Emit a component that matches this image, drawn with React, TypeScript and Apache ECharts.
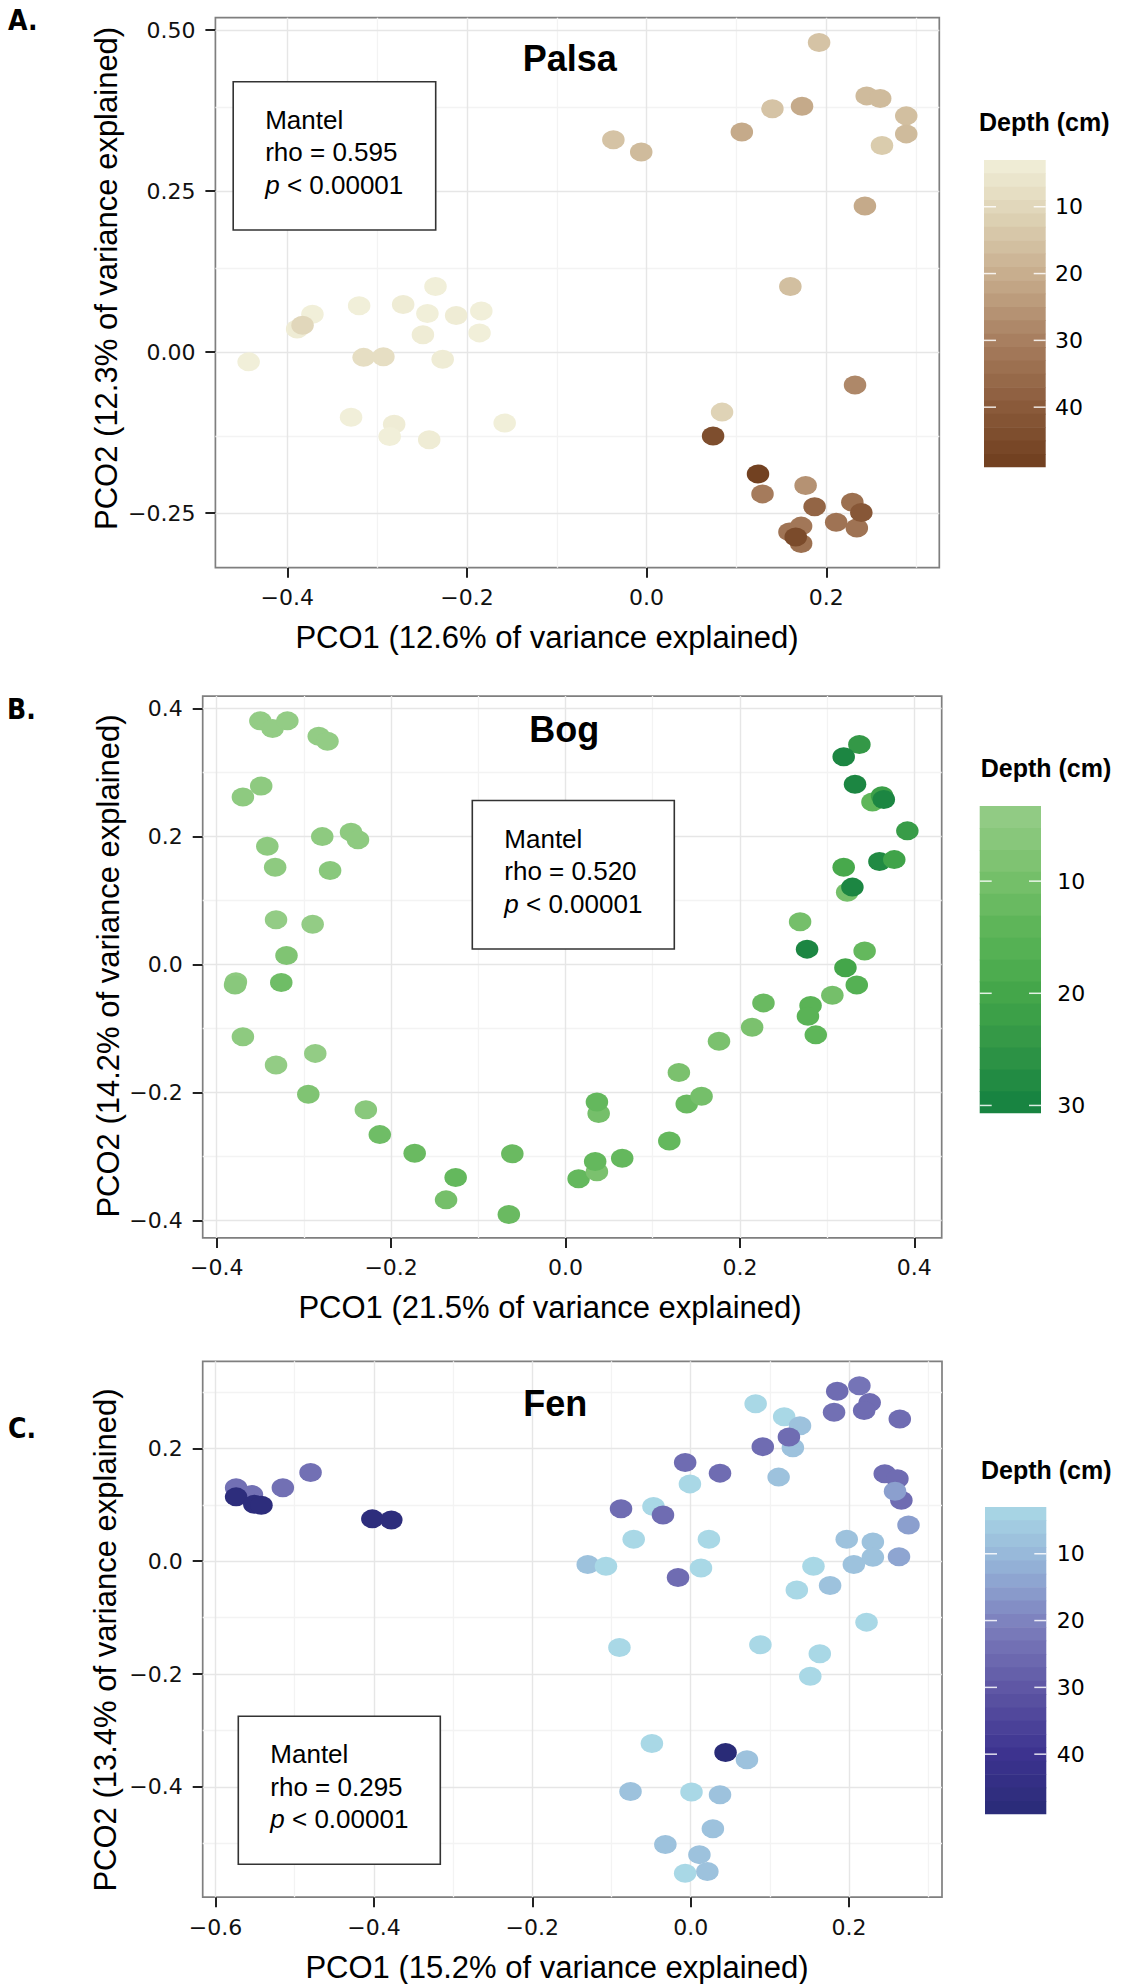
import { useEffect, useRef } from 'react';
import * as echarts from 'echarts';

// ---------------- DATA ----------------
// Palsa (A)
const palsaX = [-0.443, -0.389, -0.372, -0.320, -0.271, -0.244, -0.235, -0.212, -0.184, -0.249, -0.186, -0.227, -0.315, -0.293, -0.383, -0.329, -0.281, -0.286, -0.242, -0.158,
  0.192, 0.245, 0.260, 0.289, 0.289, 0.262, 0.173, 0.140, 0.106, -0.037, -0.006, 0.243, 0.160,
  0.232, 0.084, 0.074, 0.124, 0.129, 0.177, 0.187, 0.229, 0.211, 0.234, 0.239, 0.159, 0.172, 0.172, 0.166];
const palsaY = [-0.015, 0.036, 0.059, 0.072, 0.074, 0.060, 0.102, 0.057, 0.064, 0.027, 0.030, -0.011, -0.008, -0.007, 0.042, -0.101, -0.112, -0.131, -0.136, -0.110,
  0.481, 0.398, 0.394, 0.367, 0.339, 0.321, 0.382, 0.378, 0.342, 0.330, 0.311, 0.227, 0.102,
  -0.051, -0.093, -0.130, -0.189, -0.220, -0.207, -0.240, -0.233, -0.264, -0.273, -0.249, -0.279, -0.270, -0.297, -0.287];
const palsaDepth = [3, 4, 3, 3, 4, 3, 3, 4, 3, 4, 3, 4, 8, 8, 10, 3, 4, 3, 4, 3,
  15, 17, 17, 16, 17, 13, 21, 15, 21, 15, 17, 21, 16,
  28, 11, 44, 48, 31, 26, 37, 34, 33, 33, 41, 33, 32, 34, 45];

// Bog (B)
const bogX = [-0.350, -0.336, -0.319, -0.283, -0.273, -0.349, -0.370, -0.342, -0.279, -0.246, -0.238, -0.333, -0.270, -0.332, -0.290, -0.320, -0.378, -0.379, -0.326, -0.370, -0.332, -0.287, -0.295, -0.229, -0.213, -0.173, -0.126, -0.137, -0.065, -0.061,
  0.015, 0.036, 0.034, 0.065, 0.038, 0.036, 0.119, 0.130, 0.139, 0.156, 0.176, 0.214, 0.227, 0.269, 0.277, 0.281, 0.278, 0.287, 0.306, 0.321, 0.334, 0.343, 0.323, 0.329, 0.319, 0.360, 0.377, 0.392, 0.352, 0.363, 0.365, 0.332, 0.337, 0.319];
const bogY = [0.381, 0.369, 0.381, 0.357, 0.349, 0.279, 0.262, 0.185, 0.200, 0.207, 0.195, 0.152, 0.147, 0.070, 0.063, 0.014, -0.027, -0.032, -0.028, -0.113, -0.157, -0.139, -0.203, -0.227, -0.266, -0.295, -0.333, -0.368, -0.391, -0.296,
  -0.335, -0.324, -0.308, -0.303, -0.233, -0.215, -0.276, -0.169, -0.218, -0.206, -0.120, -0.098, -0.060, 0.067, 0.024, -0.064, -0.081, -0.110, -0.048, -0.005, -0.032, 0.021, 0.113, 0.121, 0.152, 0.161, 0.164, 0.209, 0.254, 0.264, 0.258, 0.282, 0.344, 0.325];
const bogDepth = [4, 4, 4, 4, 4, 5, 5, 5, 5, 5, 5, 5, 6, 4, 4, 8, 5, 6, 11, 5, 4, 4, 8, 6, 11, 12, 13, 10, 12, 12,
  13, 9, 13, 13, 10, 13, 13, 9, 12, 10, 9, 9, 12, 10, 29, 15, 15, 14, 10, 20, 16, 13, 10, 29, 19, 28, 21, 23, 14, 22, 29, 29, 24, 29];

// Fen (C)
const fenX = [-0.574, -0.554, -0.515, -0.480, -0.574, -0.551, -0.542, -0.402, -0.378,
  0.082, 0.118, 0.138, 0.129, 0.124, 0.185, 0.213, 0.181, 0.226, 0.219, 0.264, 0.091, -0.007, 0.037, -0.001, 0.111, 0.245, 0.261, 0.266, 0.258, 0.275,
  -0.088, -0.047, -0.035, -0.072, 0.023, 0.197, 0.230, 0.230, 0.206, 0.263, -0.130, -0.107, 0.013, -0.016, 0.155, 0.134, 0.176, 0.222,
  -0.090, 0.088, 0.163, 0.151, -0.049, 0.071, 0.044, -0.076, 0.001, 0.037, 0.028, -0.032, 0.011, -0.007, 0.021];
const fenY = [0.130, 0.118, 0.130, 0.157, 0.114, 0.101, 0.099, 0.075, 0.073,
  0.279, 0.256, 0.240, 0.201, 0.220, 0.301, 0.311, 0.264, 0.281, 0.267, 0.252, 0.203, 0.175, 0.156, 0.137, 0.149, 0.155, 0.146, 0.108, 0.124, 0.064,
  0.093, 0.097, 0.082, 0.039, 0.039, 0.039, 0.034, 0.007, -0.006, 0.008, -0.006, -0.009, -0.012, -0.029, -0.009, -0.051, -0.043, -0.108,
  -0.153, -0.148, -0.164, -0.204, -0.323, -0.352, -0.339, -0.408, -0.409, -0.414, -0.474, -0.502, -0.520, -0.553, -0.550];
const fenDepth = [24, 24, 24, 24, 47, 47, 47, 47, 47,
  3, 3, 8, 8, 25, 25, 23, 24, 25, 25, 25, 25, 25, 25, 3, 8, 25, 25, 25, 15, 15,
  25, 3, 25, 3, 3, 8, 8, 8, 8, 14, 8, 3, 3, 25, 3, 3, 8, 3,
  3, 3, 3, 3, 3, 8, 49, 8, 3, 8, 8, 8, 8, 3, 8];

// axis ticks
const palsaXTicks = [-0.4, -0.2, 0, 0.2];
const palsaXMinor = [-0.3, -0.1, 0.1, 0.3];
const palsaYTicks = [-0.25, 0, 0.25, 0.5];
const palsaYMinor = [-0.125, 0.125, 0.375];
const bogXTicks = [-0.4, -0.2, 0, 0.2, 0.4];
const bogXMinor = [-0.3, -0.1, 0.1, 0.3];
const bogYTicks = [-0.4, -0.2, 0, 0.2, 0.4];
const bogYMinor = [-0.3, -0.1, 0.1, 0.3];
const fenXTicks = [-0.6, -0.4, -0.2, 0, 0.2];
const fenXMinor = [-0.5, -0.3, -0.1, 0.1, 0.3];
const fenYTicks = [-0.4, -0.2, 0, 0.2];
const fenYMinor = [-0.5, -0.3, -0.1, 0.1, 0.3];

// colour legends
const palsaLegendTicks = [10, 20, 30, 40];
const bogLegendTicks = [10, 20, 30];
const fenLegendTicks = [10, 20, 30, 40];
const palsaRange = [3, 49];
const bogRange = [3.3, 30.7];
const fenRange = [3, 49];
const palsaColors = ['#F1EFD9', '#DCCFB1', '#C4A888', '#A67C5D', '#8B5B3B', '#6F3E1E'];
const bogColors = ['#96CD88', '#7CC26F', '#5DB558', '#45A74A', '#2F9446', '#138040'];
const fenColors = ['#A9D8E6', '#93AFD6', '#7A7BBB', '#5D55A3', '#3D3390', '#292B77'];

const palsaXTitle = 'PCO1 (12.6% of variance explained)';
const palsaYTitle = 'PCO2 (12.3% of variance explained)';
const bogXTitle = 'PCO1 (21.5% of variance explained)';
const bogYTitle = 'PCO2 (14.2% of variance explained)';
const fenXTitle = 'PCO1 (15.2% of variance explained)';
const fenYTitle = 'PCO2 (13.4% of variance explained)';

// ---------------- STYLE / LAYOUT ----------------
const FONT = '"Liberation Sans", Arial, Helvetica, sans-serif';
const WIDE = '"DejaVu Sans", Verdana, sans-serif';
const NARROW = '"Liberation Sans Narrow", "DejaVu Sans Condensed", "Liberation Sans", sans-serif';
const ELLIPSE = 'path://M50,0 A50,50 0 1 1 50,100 A50,50 0 1 1 50,0 Z';

const panels = [
  {
    name: 'Palsa', letter: 'A.', xs: palsaX, ys: palsaY, ds: palsaDepth, range: palsaRange, colors: palsaColors,
    grid: { left: 215.4, top: 17.7, width: 723.9, height: 550 },
    xMin: -0.480, xMax: 0.3258, yMin: -0.3346, yMax: 0.5194,
    xTicks: palsaXTicks, xMinor: palsaXMinor, yTicks: palsaYTicks, yMinor: palsaYMinor,
    xStep: 0.2, yStep: 0.25, xDec: 1, yDec: 2,
    xTitle: palsaXTitle, yTitle: palsaYTitle, xTitlePos: [547, 637], yTitlePos: [106.5, 278.4],
    titlePos: [522.7, 58.3], letterPos: [8, 20], box: [233.2, 81.7, 202.5, 148.3], rho: '0.595',
    legend: { titleX: 979, titleY: 121.7, barX: 984, barY: 160, barW: 61.7, barH: 307.3, labelX: 1055, nb: 23, ticks: palsaLegendTicks },
  },
  {
    name: 'Bog', letter: 'B.', xs: bogX, ys: bogY, ds: bogDepth, range: bogRange, colors: bogColors,
    grid: { left: 202.7, top: 696.1, width: 739, height: 541.8 },
    xMin: -0.4161, xMax: 0.4314, yMin: -0.4275, yMax: 0.4197,
    xTicks: bogXTicks, xMinor: bogXMinor, yTicks: bogYTicks, yMinor: bogYMinor,
    xStep: 0.2, yStep: 0.2, xDec: 1, yDec: 1,
    xTitle: bogXTitle, yTitle: bogYTitle, xTitlePos: [550, 1307], yTitlePos: [108, 966],
    titlePos: [529.3, 729], letterPos: [7, 709], box: [472.3, 800.5, 202, 148.5], rho: '0.520',
    legend: { titleX: 980.7, titleY: 768, barX: 979.7, barY: 806, barW: 61.3, barH: 307.3, labelX: 1057.3, nb: 14, ticks: bogLegendTicks },
  },
  {
    name: 'Fen', letter: 'C.', xs: fenX, ys: fenY, ds: fenDepth, range: fenRange, colors: fenColors,
    grid: { left: 202.7, top: 1361.3, width: 739.3, height: 535.9 },
    xMin: -0.6162, xMax: 0.3173, yMin: -0.5954, yMax: 0.3542,
    xTicks: fenXTicks, xMinor: fenXMinor, yTicks: fenYTicks, yMinor: fenYMinor,
    xStep: 0.2, yStep: 0.2, xDec: 1, yDec: 1,
    xTitle: fenXTitle, yTitle: fenYTitle, xTitlePos: [557, 1967], yTitlePos: [105, 1640],
    titlePos: [523.3, 1403], letterPos: [8, 1428], box: [238.3, 1716.2, 202, 148], rho: '0.295',
    legend: { titleX: 981, titleY: 1470, barX: 985, barY: 1507, barW: 61.3, barH: 307.3, labelX: 1056.7, nb: 23, ticks: fenLegendTicks },
  },
];

function hexToRgb(h: string) {
  const n = parseInt(h.slice(1), 16);
  return [(n >> 16) & 255, (n >> 8) & 255, n & 255];
}
function colorAt(stops: string[], t: number) {
  const tt = Math.max(0, Math.min(1, t)) * (stops.length - 1);
  const i = Math.min(Math.floor(tt), stops.length - 2);
  const f = tt - i;
  const a = hexToRgb(stops[i]);
  const b = hexToRgb(stops[i + 1]);
  return 'rgb(' + a.map((v, k) => Math.round(v + (b[k] - v) * f)).join(',') + ')';
}
function fmt(dec: number) {
  return (v: any) => {
    const n = Number(v);
    return (n < -1e-9 ? '\u2212' : '') + Math.abs(n).toFixed(dec);
  };
}
function txt(x: number, y: number, text: string, size: number, family: string, weight: string, align: string, extra: any = {}) {
  return {
    type: 'text', x, y, silent: true, z: 100, ...extra,
    style: {
      text, fontSize: size, fontFamily: family, fontWeight: weight, fill: '#000',
      align, verticalAlign: 'middle', textAlign: align, textVerticalAlign: 'middle',
    },
  };
}

function buildOption() {
  const grids: any[] = [];
  const xAxes: any[] = [];
  const yAxes: any[] = [];
  const series: any[] = [];
  const visualMaps: any[] = [];
  const graphics: any[] = [];

  panels.forEach((p, i) => {
    grids.push({
      left: p.grid.left, top: p.grid.top, width: p.grid.width, height: p.grid.height,
      show: true, borderColor: '#7f7f7f', borderWidth: 1.7, backgroundColor: '#ffffff',
      containLabel: false, outerBoundsMode: 'none',
    });
    const axisCommon = (ticks: number[], dec: number, step: number, min: number, max: number, margin: number) => ({
      type: 'value', gridIndex: i, min, max, minInterval: step, maxInterval: step,
      axisLine: { show: false, onZero: false },
      axisTick: { show: true, inside: false, length: 10, customValues: ticks, lineStyle: { color: '#222', width: 2 } },
      axisLabel: { show: true, customValues: ticks, formatter: fmt(dec), fontFamily: WIDE, fontSize: 22, color: '#111', margin },
      splitLine: { show: false }, minorTick: { show: false }, minorSplitLine: { show: false },
    });
    xAxes.push(axisCommon(p.xTicks, p.xDec, p.xStep, p.xMin, p.xMax, 19));
    yAxes.push(axisCommon(p.yTicks, p.yDec, p.yStep, p.yMin, p.yMax, 20));

    const minorStyle = { color: '#F3F3F3', width: 1.3, type: 'solid' };
    const majorStyle = { color: '#E6E6E6', width: 1.4, type: 'solid' };
    const gridLines = [
      ...p.xMinor.map((v) => ({ xAxis: v, lineStyle: minorStyle })),
      ...p.yMinor.map((v) => ({ yAxis: v, lineStyle: minorStyle })),
      ...p.xTicks.map((v) => ({ xAxis: v, lineStyle: majorStyle })),
      ...p.yTicks.map((v) => ({ yAxis: v, lineStyle: majorStyle })),
    ];

    series.push({
      type: 'scatter', name: p.name, xAxisIndex: i, yAxisIndex: i, z: 2, silent: true,
      data: p.xs.map((x, k) => [x, p.ys[k], p.ds[k]]),
      symbol: ELLIPSE, symbolSize: [22.5, 19],
      itemStyle: { opacity: 1, borderWidth: 0 },
      markLine: {
        silent: true, z: 1, symbol: ['none', 'none'], label: { show: false },
        emphasis: { disabled: true }, animation: false, data: gridLines,
      },
    });

    visualMaps.push({
      type: 'continuous', show: false, seriesIndex: i, dimension: 2,
      min: p.range[0], max: p.range[1], inRange: { color: p.colors },
    });

    // panel letter and title
    graphics.push(txt(p.letterPos[0], p.letterPos[1], p.letter, 28, NARROW, 'bold', 'left'));
    graphics.push(txt(p.titlePos[0], p.titlePos[1], p.name, 36, FONT, 'bold', 'left'));
    // axis titles
    graphics.push(txt(p.xTitlePos[0], p.xTitlePos[1], p.xTitle, 31, FONT, 'normal', 'center'));
    graphics.push(txt(p.yTitlePos[0], p.yTitlePos[1], p.yTitle, 31, FONT, 'normal', 'center', { rotation: Math.PI / 2 }));

    // Mantel box
    const [bx, by, bw, bh] = p.box;
    graphics.push({
      type: 'rect', silent: true, z: 50,
      shape: { x: bx, y: by, width: bw, height: bh },
      style: { fill: '#ffffff', stroke: '#333333', lineWidth: 1.6 },
    });
    graphics.push(txt(bx + 32, by + 38, 'Mantel', 26, FONT, 'normal', 'left'));
    graphics.push(txt(bx + 32, by + 70.5, 'rho = ' + p.rho, 26, FONT, 'normal', 'left'));
    graphics.push({
      type: 'text', x: bx + 32, y: by + 103, silent: true, z: 100,
      style: {
        text: '{i|p} < 0.00001', fontSize: 26, fontFamily: FONT, fill: '#000',
        align: 'left', verticalAlign: 'middle', textAlign: 'left', textVerticalAlign: 'middle',
        rich: { i: { fontStyle: 'italic', fontSize: 26, fontFamily: FONT, fill: '#000', color: '#000' } },
      },
    });

    // colour legend
    const L = p.legend;
    graphics.push(txt(L.titleX, L.titleY, 'Depth (cm)', 25, FONT, 'bold', 'left'));
    const span = p.range[1] - p.range[0];
    const bandH = L.barH / L.nb;
    for (let b = 0; b < L.nb; b++) {
      const t = (b + 0.5) / L.nb;
      graphics.push({
        type: 'rect', silent: true, z: 60,
        shape: { x: L.barX, y: L.barY + b * bandH, width: L.barW, height: b === L.nb - 1 ? bandH : bandH + 0.6 },
        style: { fill: colorAt(p.colors, t), stroke: 'none' },
      });
    }
    L.ticks.forEach((tv) => {
      const ty = L.barY + ((tv - p.range[0]) / span) * L.barH;
      graphics.push({ type: 'line', silent: true, z: 61, shape: { x1: L.barX, y1: ty, x2: L.barX + 12, y2: ty }, style: { stroke: 'rgba(255,255,255,0.85)', lineWidth: 1.5 } });
      graphics.push({ type: 'line', silent: true, z: 61, shape: { x1: L.barX + L.barW - 12, y1: ty, x2: L.barX + L.barW, y2: ty }, style: { stroke: 'rgba(255,255,255,0.85)', lineWidth: 1.5 } });
      graphics.push(txt(L.labelX, ty, String(tv), 22, WIDE, 'normal', 'left'));
    });
  });

  return {
    animation: false,
    backgroundColor: '#ffffff',
    grid: grids,
    xAxis: xAxes,
    yAxis: yAxes,
    visualMap: visualMaps,
    series,
    graphic: { elements: graphics },
  };
}

export default function App() {
  const ref = useRef<HTMLDivElement>(null);
  useEffect(() => {
    if (!ref.current) return;
    const chart = echarts.init(ref.current, undefined, { renderer: 'svg' });
    chart.setOption(buildOption() as any);
    return () => {
      chart.dispose();
    };
  }, []);
  return (
    <div
      ref={ref}
      style={{ position: 'absolute', left: 0, top: 0, width: 1132, height: 1984, background: '#ffffff' }}
    />
  );
}
